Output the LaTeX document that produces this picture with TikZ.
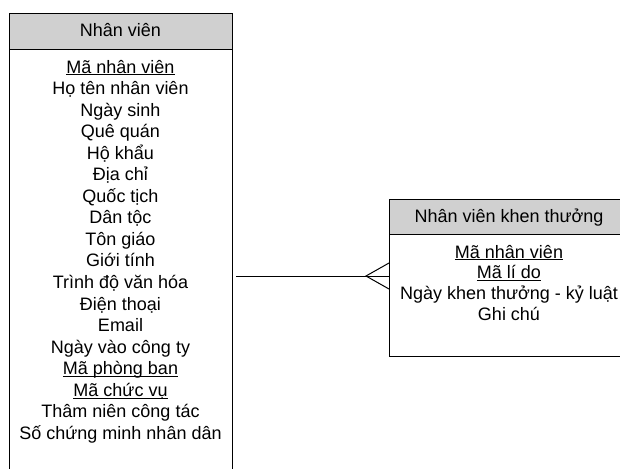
\documentclass[tikz,border=0pt]{standalone}
\usepackage{fontspec}
\setmainfont{Liberation Sans}
% key attribute: underline at a fixed depth, crossing descenders
\newcommand\keyattr[1]{\setbox0\hbox{#1}\rlap{\rule[-1.7pt]{\wd0}{0.75pt}}\box0}
\definecolor{hdrgray}{RGB}{208,208,208}
\begin{document}
\begin{tikzpicture}[x=0.75pt,y=-0.75pt,
  every node/.style={inner sep=0pt, outer sep=0pt},
  entity/.style={draw=black, line width=0.75pt, anchor=north west},
  header/.style={entity, fill=hdrgray},
  attr/.style={anchor=base, font=\fontsize{13.5pt}{16pt}\selectfont},
  link/.style={draw=black, line width=0.75pt}]
\useasboundingbox (0,0) rectangle (620,468);
\clip (0,0) rectangle (620,468);

% Entity: Nhân viên
\node[header, minimum width=223*0.75pt, minimum height=36*0.75pt] (empHead) at (9,13) {};
\node[entity, minimum width=223*0.75pt, minimum height=440*0.75pt] (empBody) at (9,49) {};
\node[attr] (empTitle) at (120.5,36) {Nhân viên};
\foreach \t [count=\i] in {
  {\keyattr{Mã nhân viên}}, Họ tên nhân viên, Ngày sinh, Quê quán, Hộ khẩu,
  Địa chỉ, Quốc tịch, Dân tộc, Tôn giáo, Giới tính, Trình độ văn hóa,
  Điện thoại, Email, Ngày vào công ty, {\keyattr{Mã phòng ban}},
  {\keyattr{Mã chức vụ}}, Thâm niên công tác, Số chứng minh nhân dân}
  \node[attr] (empAttr\i) at (120.5,{73+21.55*(\i-1)}) {\t};

% Entity: Nhân viên khen thưởng
\node[header, minimum width=240*0.75pt, minimum height=35*0.75pt] (rwdHead) at (389,199) {};
\node[entity, minimum width=240*0.75pt, minimum height=122*0.75pt] (rwdBody) at (389,234) {};
\node[attr] (rwdTitle) at (509,222) {Nhân viên khen thưởng};
\foreach \t [count=\i] in {
  {\keyattr{Mã nhân viên}}, {\keyattr{Mã lí do}},
  Ngày khen thưởng - kỷ luật, Ghi chú}
  \node[attr] (rwdAttr\i) at (509,{258+20.8*(\i-1)}) {\t};

% One-to-many relationship with crow's foot
\coordinate (linkStart) at (236,276);
\coordinate (crowTip) at (366,276);
\draw[link] (linkStart) -- (rwdBody.west |- linkStart);
\draw[link] (rwdBody.west |- 0,263) -- (crowTip) -- (rwdBody.west |- 0,289);
\end{tikzpicture}
\end{document}
